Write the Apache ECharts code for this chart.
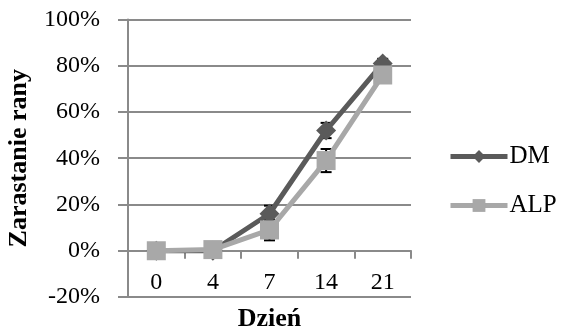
<!DOCTYPE html>
<html>
<head>
<meta charset="utf-8">
<script src="https://cdn.jsdelivr.net/npm/echarts@6/dist/echarts.min.js"></script>
<style>
  html, body { margin: 0; padding: 0; background: #fff; }
  #chart { width: 562px; height: 334px; }
</style>
</head>
<body>
<div id="chart"></div>
<script>
// Days of observation
var days = ['0', '4', '7', '14', '21'];
// Mean wound closure (fraction) per group
var dmValues = [0.00, 0.00, 0.16, 0.52, 0.81];
var alpValues = [0.00, 0.005, 0.09, 0.39, 0.76];
// Standard deviation per group
var dmErrors = [0.00, 0.03, 0.035, 0.033, 0.02];
var alpErrors = [0.00, 0.01, 0.045, 0.05, 0.02];

var FONT = '"Liberation Serif", "Times New Roman", serif';
var GRID_COLOR = '#8a8a8a';
var DM_COLOR = '#5a5a5a';
var ALP_COLOR = '#a8a8a8';

// plot box, and the height of the -20%..0% band where the category axis sits
var PLOT_TOP = 19.5, PLOT_BOTTOM = 37;
var PLOT_H = 334 - PLOT_TOP - PLOT_BOTTOM;
var Y_MIN = -0.2, Y_MAX = 1;
var ZERO_OFFSET = -PLOT_H * (0 - Y_MIN) / (Y_MAX - Y_MIN);

function errorData(values, errors) {
  return values.map(function (v, i) { return [i, v - errors[i], v + errors[i]]; });
}

function renderErrorBar(params, api) {
  var x = api.value(0);
  var lo = api.coord([x, api.value(1)]);
  var hi = api.coord([x, api.value(2)]);
  var cap = 5.5;
  var style = { stroke: '#000', lineWidth: 2 };
  return {
    type: 'group',
    children: [
      { type: 'line', shape: { x1: lo[0], y1: lo[1], x2: hi[0], y2: hi[1] }, style: style },
      { type: 'line', shape: { x1: lo[0] - cap, y1: lo[1], x2: lo[0] + cap, y2: lo[1] }, style: style },
      { type: 'line', shape: { x1: hi[0] - cap, y1: hi[1], x2: hi[0] + cap, y2: hi[1] }, style: style }
    ]
  };
}

var chart = echarts.init(document.getElementById('chart'), null, { renderer: 'canvas' });
chart.setOption({
  animation: false,
  backgroundColor: '#fff',
  textStyle: { fontFamily: FONT },
  grid: { left: 128, right: 151, top: PLOT_TOP, bottom: PLOT_BOTTOM, containLabel: false, outerBoundsMode: 'none' },
  legend: {
    orient: 'vertical',
    left: 443,
    top: 139,
    itemWidth: 57,
    itemHeight: 16,
    itemGap: 24,
    data: ['DM', 'ALP'],
    lineStyle: { width: 5 },
    textStyle: { fontFamily: FONT, fontSize: 25, color: '#000', padding: [0, 0, 0, -3] }
  },
  xAxis: {
    type: 'category',
    data: days,
    boundaryGap: true,
    position: 'bottom',
    offset: ZERO_OFFSET,
    name: 'Dzień',
    nameLocation: 'middle',
    nameGap: 56,
    nameTextStyle: { fontFamily: FONT, fontSize: 26, fontWeight: 'bold', color: '#000' },
    axisLine: { onZero: false, lineStyle: { color: GRID_COLOR, width: 2 } },
    axisTick: { show: true, alignWithLabel: false, length: 8, lineStyle: { color: GRID_COLOR, width: 2 } },
    axisLabel: { fontFamily: FONT, fontSize: 24, color: '#000', margin: 20 },
    splitLine: { show: false }
  },
  yAxis: {
    type: 'value',
    min: Y_MIN,
    max: Y_MAX,
    interval: 0.2,
    name: 'Zarastanie rany',
    nameLocation: 'middle',
    nameGap: 96,
    nameTextStyle: { fontFamily: FONT, fontSize: 26, fontWeight: 'bold', color: '#000' },
    axisLine: { show: true, onZero: false, lineStyle: { color: GRID_COLOR, width: 2 } },
    axisTick: { show: true, length: 10, lineStyle: { color: GRID_COLOR, width: 2 } },
    axisLabel: {
      fontFamily: FONT, fontSize: 24, color: '#000', margin: 28,
      formatter: function (v) { return Math.round(v * 100) + '%'; }
    },
    splitLine: { show: true, lineStyle: { color: GRID_COLOR, width: 2 } }
  },
  series: [
    {
      type: 'custom',
      name: 'errDM',
      renderItem: renderErrorBar,
      data: errorData(dmValues, dmErrors),
      z: 1,
      silent: true
    },
    {
      type: 'custom',
      name: 'errALP',
      renderItem: renderErrorBar,
      data: errorData(alpValues, alpErrors),
      z: 1,
      silent: true
    },
    {
      name: 'DM',
      type: 'line',
      data: dmValues,
      symbol: 'diamond',
      symbolSize: 20,
      showAllSymbol: true,
      lineStyle: { color: DM_COLOR, width: 5 },
      itemStyle: { color: DM_COLOR, borderWidth: 0 },
      z: 2
    },
    {
      name: 'ALP',
      type: 'line',
      data: alpValues,
      symbol: 'rect',
      symbolSize: 19,
      showAllSymbol: true,
      lineStyle: { color: ALP_COLOR, width: 5 },
      itemStyle: { color: ALP_COLOR, borderWidth: 0 },
      z: 3
    }
  ]
});
</script>
</body>
</html>
